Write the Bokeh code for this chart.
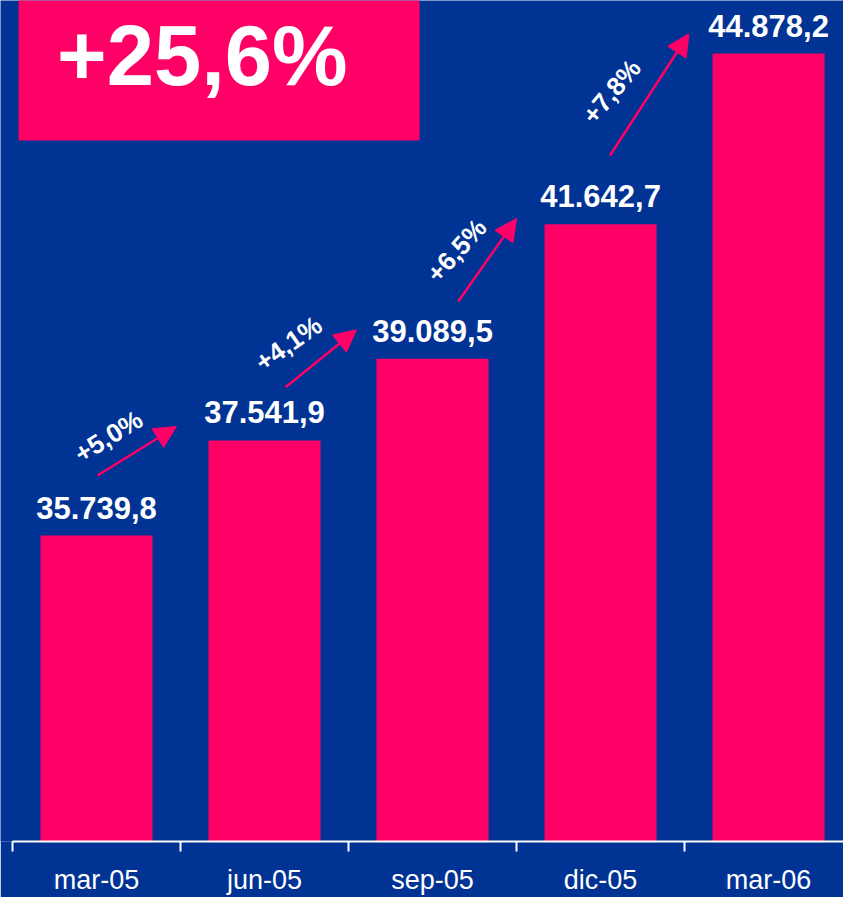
import math
from bokeh.plotting import figure
from bokeh.models import (Range1d, FixedTicker, Arrow, NormalHead, ColumnDataSource,
                          Label, BoxAnnotation)
from bokeh.embed import file_html
from bokeh.resources import INLINE
from bokeh.core.properties import value

# ---------------- data ----------------
categories = ["mar-05", "jun-05", "sep-05", "dic-05", "mar-06"]
values = [35739.8, 37541.9, 39089.5, 41642.7, 44878.2]
pct_labels = ["+5,0%", "+4,1%", "+6,5%", "+7,8%"]
total_label = "+25,6%"

# ---------------- layout / style ----------------
BLUE = "#003393"
PINK = "#FF0066"
FONT = "Liberation Sans"

W, H = 843, 897
x_start, x_end = -0.5714, 4.446
y_start, y_end = 29938, 45884

# arrow placement relative to bars (x offset from bar index, y offset above value)
arr_sx = [0.006, 0.125, 0.153, 0.056]
arr_ex = [0.476, 0.548, 0.500, 0.526]
arr_sy = [1138, 1010, 1088, 1302]
arr_ey = [265, 551, 108, 375]
# percentage label placement relative to bars
lab_dx = [0.071, 0.143, 0.143, 0.065]
lab_dy = [1877, 1839, 2055, 2517]
lab_angle = [32, 35, 48, 50]


def fmt(v):
    s = f"{v:,.1f}"
    return s.replace(",", "X").replace(".", ",").replace("X", ".")


idx = list(range(len(categories)))

p = figure(width=W, height=H, output_backend="svg", toolbar_location=None,
           x_range=Range1d(x_start, x_end), y_range=Range1d(y_start, y_end),
           y_axis_location=None, min_border_left=0, min_border_right=0,
           min_border_top=0, min_border_bottom=56)
p.background_fill_color = BLUE
p.border_fill_color = BLUE
p.outline_line_color = None
p.grid.visible = False

# bars
src = ColumnDataSource(dict(x=idx, top=values, label=[fmt(v) for v in values]))
p.vbar(x="x", top="top", bottom=y_start, width=0.667, source=src,
       fill_color=PINK, line_color=None)

# value labels
p.text(x="x", y="top", text="label", source=src, text_align="center",
       text_baseline="alphabetic", y_offset=-28, text_color="white",
       text_font=value(FONT), text_font_style="bold", text_font_size="31px")

# growth arrows
n = len(pct_labels)
asrc = ColumnDataSource(dict(
    xs=[i + arr_sx[i] for i in range(n)],
    ys=[values[i] + arr_sy[i] for i in range(n)],
    xe=[i + arr_ex[i] for i in range(n)],
    ye=[values[i + 1] + arr_ey[i] for i in range(n)],
))
p.add_layout(Arrow(x_start="xs", y_start="ys", x_end="xe", y_end="ye", source=asrc,
                   line_color=PINK, line_width=2.5,
                   end=NormalHead(size=22, fill_color=PINK, line_color=PINK)))

# growth labels
lsrc = ColumnDataSource(dict(
    x=[i + lab_dx[i] for i in range(n)],
    y=[values[i] + lab_dy[i] for i in range(n)],
    text=pct_labels,
    angle=[math.radians(a) for a in lab_angle],
))
p.text(x="x", y="y", text="text", angle="angle", source=lsrc, text_align="center",
       text_baseline="middle", text_color="white", text_font=value(FONT),
       text_font_style="bold", text_font_size="26px")

# total growth box
p.add_layout(BoxAnnotation(left=-0.464, right=1.923, bottom=43230, top=47000,
                           fill_color=PINK, fill_alpha=1.0, line_color=None))
p.add_layout(Label(x=-0.235, y=44840, text=total_label, text_color="white",
                   text_font=FONT, text_font_style="bold", text_font_size="85px",
                   text_baseline="alphabetic", text_align="left"))

# x axis: ticks at category boundaries, labels at category centres
ax = p.xaxis[0]
ax.ticker = FixedTicker(ticks=idx, minor_ticks=[i - 0.5 for i in range(len(categories) + 1)])
ax.major_label_overrides = {i: c for i, c in enumerate(categories)}
ax.bounds = (-0.5, 4.5)
ax.axis_line_color = "white"
ax.axis_line_width = 2
ax.major_tick_out = 0
ax.major_tick_in = 0
ax.minor_tick_out = 10
ax.minor_tick_in = 0
ax.minor_tick_line_color = "white"
ax.minor_tick_line_width = 2
ax.major_label_text_color = "white"
ax.major_label_text_font = FONT
ax.major_label_text_font_size = "27px"
ax.major_label_standoff = 13

open("out.html", "w").write(file_html(p, INLINE))
